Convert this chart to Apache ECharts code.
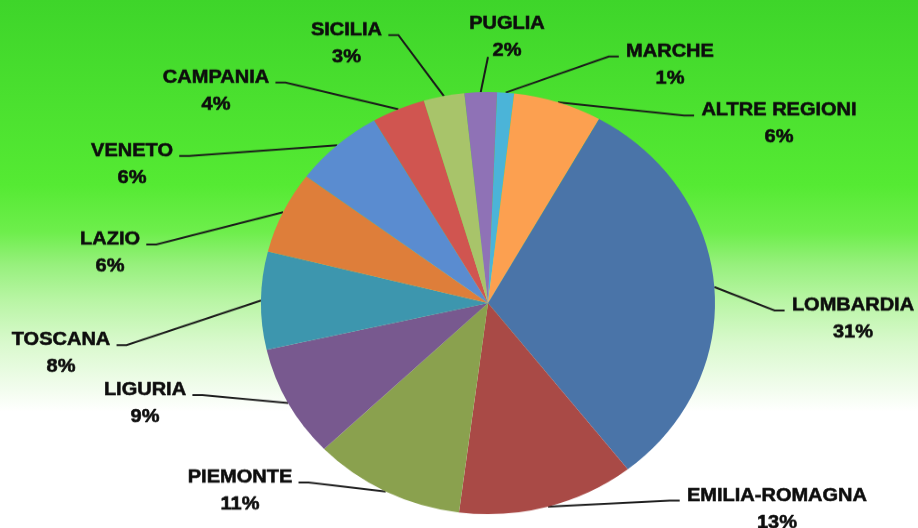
<!DOCTYPE html>
<html>
<head>
<meta charset="utf-8">
<script src="https://cdn.jsdelivr.net/npm/echarts@6/dist/echarts.min.js"></script>
<style>
  html, body { margin: 0; padding: 0; width: 918px; height: 528px; overflow: hidden; }
  body {
    background: linear-gradient(to bottom, #3ed52a 0%, #55ea33 35%, #6eee4c 44%, #96f07c 50%, #b9f5a5 57%, #d9f9cd 65%, #f3fdef 74%, #ffffff 78%, #ffffff 100%);
  }
  /* the source image is squashed vertically, so draw taller and squash */
  #main { width: 918px; height: 568px; transform: scaleY(0.9296); transform-origin: 0 0; }
</style>
</head>
<body>
<div id="main"></div>
<script>
const regions = ['MARCHE', 'ALTRE REGIONI', 'LOMBARDIA', 'EMILIA-ROMAGNA', 'PIEMONTE', 'LIGURIA',
  'TOSCANA', 'LAZIO', 'VENETO', 'CAMPANIA', 'SICILIA', 'PUGLIA']
const shares = [1.2, 6.3, 31.3, 12.6, 10.8, 8.6, 7.5, 6.3, 6.4, 3.8, 2.9, 2.3]
const colors = ['#4bb4d8', '#fca050', '#4a74a8', '#a94a46', '#8aa14e', '#78598f',
  '#3d96ae', '#de7e3a', '#5a8cd0', '#d05550', '#a8c46a', '#8f72b6']

// where each label sits in the picture: centre x / centre y of the name line, and which side the leader line leaves from
const labelAnchors = [
  [670, 51.5, 'right'],
  [779, 110.5, 'right'],
  [853, 305.5, 'right'],
  [777, 495.5, 'right'],
  [240, 477.5, 'left'],
  [145, 390, 'left'],
  [61, 340, 'left'],
  [110, 239.5, 'left'],
  [132, 151, 'left'],
  [216, 77.5, 'left'],
  [346.5, 30, 'left'],
  [507, 23.5, 'bottom']
]
const squash = 0.9296

const myChart = echarts.init(document.getElementById('main'))

const option = {
  animation: false,
  color: colors,
  series: [
    {
      type: 'pie',
      center: [488, 326],
      radius: 227,
      startAngle: 87.7,
      clockwise: true,
      avoidLabelOverlap: false,
      minShowLabelAngle: 0,
      percentPrecision: 0,
      emphasis: { disabled: true },
      itemStyle: { borderWidth: 0 },
      label: {
        show: true,
        position: 'outside',
        formatter: '{n|{b}}\n{n|{d}%}',
        rich: {
          n: {
            fontFamily: '"Liberation Sans", Arial, sans-serif',
            fontWeight: 'bold',
            fontSize: 20,
            lineHeight: 29,
            color: '#0d0d0d',
            textBorderColor: '#0d0d0d',
            textBorderWidth: 0.6
          }
        }
      },
      labelLine: {
        show: true,
        length: 20,
        length2: 10,
        lineStyle: { color: '#1a1a1a', width: 2 }
      },
      labelLayout: function (params) {
        const a = labelAnchors[params.dataIndex]
        const w = params.labelRect.width
        const x = a[0]
        const y = a[1] / squash
        const p0 = params.labelLinePoints ? params.labelLinePoints[0] : [488, 326]
        let p1, p2
        if (a[2] === 'left') {
          p2 = [x + w / 2 + 6, y + 5.4]
          p1 = [p2[0] + 10, p2[1]]
        } else if (a[2] === 'right') {
          p2 = [x - w / 2 - 7, y + 5.4]
          p1 = [p2[0] - 10, p2[1]]
        } else {
          p2 = [x - 19, y + 36]
          p1 = p2
        }
        return {
          x: x,
          y: y - 14.5,
          align: 'center',
          verticalAlign: 'top',
          labelLinePoints: [p0, p1, p2]
        }
      },
      data: regions.map((name, i) => ({ name: name, value: shares[i] }))
    }
  ]
}
myChart.setOption(option)
</script>
</body>
</html>
